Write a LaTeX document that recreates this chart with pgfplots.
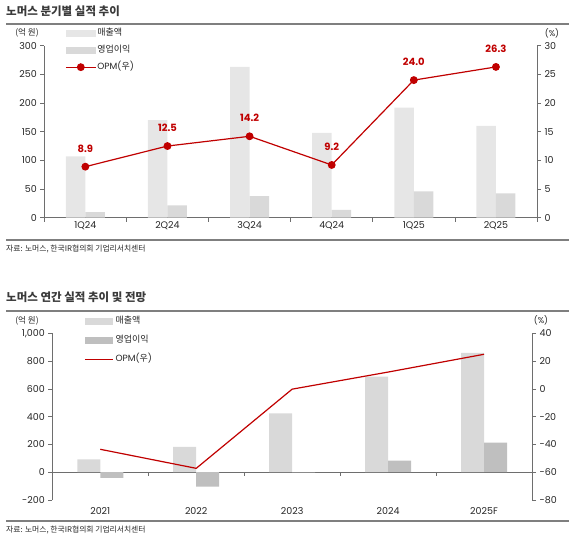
\documentclass[border=0pt]{standalone}
\usepackage{fontspec}
\setmainfont{Poppins}
\newfontfamily\kr{Noto Sans CJK KR}
\usepackage{pgfplots}
\pgfplotsset{compat=1.18}
\definecolor{salesA}{HTML}{E6E6E6}
\definecolor{opA}{HTML}{D9D9D9}
\definecolor{salesB}{HTML}{D9D9D9}
\definecolor{opB}{HTML}{BFBFBF}
\definecolor{opm}{HTML}{C00000}
\definecolor{rulec}{HTML}{7F7F7F}
\definecolor{axc}{HTML}{6E6E6E}
\definecolor{txt}{HTML}{262626}
\definecolor{ttl}{HTML}{3A3A3A}
\newcommand{\tickfont}{\fontsize{9.5bp}{11bp}\selectfont}
\newcommand{\legfont}{\fontsize{9bp}{11bp}\selectfont}
\pgfplotsset{
  common/.style={
    scale only axis, clip=false,
    /pgf/number format/assume math mode=true,
    tick label style={font=\tickfont, text=txt},
    tick align=outside, major tick length=4bp,
    axis line style={draw=axc, line width=0.6bp},
    every tick/.style={draw=axc, line width=0.6bp},
    scaled y ticks=false,
  },
  barlegA/.style={legend image code/.code={\fill[##1] (0bp,-3.4bp) rectangle (30bp,3.4bp);}},
  barlegB/.style={legend image code/.code={\fill[##1] (0bp,-3.4bp) rectangle (28.7bp,3.4bp);}},
  marklegA/.style={legend image code/.code={\draw[mark repeat=2,mark phase=2,##1] plot coordinates {(0bp,0bp) (15bp,0bp) (30bp,0bp)};}},
  linelegB/.style={legend image code/.code={\draw[##1] (0bp,0bp) -- (28.7bp,0bp);}},
}
\begin{document}
\begin{tikzpicture}
\useasboundingbox (0,0) rectangle (576bp,-543bp);
% ---------- chart 1 ----------
\node[anchor=west, text=ttl, inner sep=0] at (6bp,-11.5bp) {\kr\bfseries\fontsize{11.5bp}{13bp}\selectfont 노머스 분기별 실적 추이};
\draw[rulec, line width=2bp] (6bp,-24bp) -- (569bp,-24bp);
\draw[rulec, line width=2bp] (6bp,-240bp) -- (569bp,-240bp);
\node[anchor=west, text=txt, inner sep=0] at (6bp,-249bp) {\kr\fontsize{7.8bp}{9bp}\selectfont 자료: 노머스, 한국IR협의회 기업리서치센터};
\node[text=txt, inner sep=0] at (27bp,-33bp) {\kr\fontsize{8.5bp}{10bp}\selectfont (억 원)};
\node[text=txt, inner sep=0] at (552bp,-33bp) {\fontsize{8.5bp}{10bp}\selectfont (\%)};
\begin{axis}[common,
  at={(44.3bp,-217.7bp)}, anchor=south west,
  width=492.7bp, height=172bp,
  xmin=-0.5, xmax=5.5, ymin=0, ymax=300,
  axis x line*=bottom, axis y line*=left,
  xtick={-0.5,0.5,1.5,2.5,3.5,4.5,5.5},
  xticklabels={,,,,,,},
  extra x ticks={0,1,2,3,4,5},
  extra x tick labels={1Q24,2Q24,3Q24,4Q24,1Q25,2Q25},
  extra x tick style={major tick length=0pt},
  ytick={0,50,...,300},
  legend style={at={(0.042,1.106)}, anchor=north west, draw=none, fill=none,
    inner sep=0pt, row sep=6bp, font=\legfont,
    nodes={inner sep=1bp, text height=7bp, text depth=2bp, text=txt}},
  legend cell align=left,
]
\addplot[ybar, bar width=19.5bp, bar shift=-9.75bp, fill=salesA, draw=none, barlegA]
  coordinates {(0,107) (1,170) (2,263) (3,148) (4,192) (5,160)};
\addlegendentry{\kr 매출액}
\addplot[ybar, bar width=19.5bp, bar shift=9.75bp, fill=opA, draw=none, barlegA]
  coordinates {(0,9.8) (1,21.5) (2,37.5) (3,13.8) (4,46) (5,42.5)};
\addlegendentry{\kr 영업이익}
\addlegendimage{opm, line width=1.2bp, mark=*, mark size=3.3bp, marklegA}
\addlegendentry{OPM({\kr 우})}
\end{axis}
\begin{axis}[common,
  at={(44.3bp,-217.7bp)}, anchor=south west,
  width=492.7bp, height=172bp,
  xmin=-0.5, xmax=5.5, ymin=0, ymax=30,
  axis x line=none, axis y line*=right,
  ytick={0,5,...,30},
]
\addplot[opm, line width=1.2bp, mark=*, mark size=3.3bp,
  nodes near coords, point meta=explicit symbolic,
  every node near coord/.append style={font=\fontsize{10bp}{12bp}\selectfont\bfseries, text=opm, anchor=south, yshift=10.5bp}]
  coordinates {(0,8.9) [8.9] (1,12.5) [12.5] (2,14.2) [14.2] (3,9.2) [9.2] (4,24.0) [24.0] (5,26.3) [26.3]};
\end{axis}
% ---------- chart 2 ----------
\node[anchor=west, text=ttl, inner sep=0] at (6bp,-297.5bp) {\kr\bfseries\fontsize{11.5bp}{13bp}\selectfont 노머스 연간 실적 추이 및 전망};
\draw[rulec, line width=2bp] (6bp,-311bp) -- (569bp,-311bp);
\draw[rulec, line width=2bp] (6bp,-521bp) -- (569bp,-521bp);
\node[anchor=west, text=txt, inner sep=0] at (6bp,-530bp) {\kr\fontsize{7.8bp}{9bp}\selectfont 자료: 노머스, 한국IR협의회 기업리서치센터};
\node[text=txt, inner sep=0] at (27bp,-320.7bp) {\kr\fontsize{8.5bp}{10bp}\selectfont (억 원)};
\node[text=txt, inner sep=0] at (541bp,-320bp) {\fontsize{8.5bp}{10bp}\selectfont (\%)};
\begin{axis}[common,
  at={(52.3bp,-500bp)}, anchor=south west,
  width=479.7bp, height=166.7bp,
  xmin=-0.5, xmax=4.5, ymin=-200, ymax=1000,
  axis x line*=bottom, axis y line*=left,
  x axis line style={draw=none},
  xtick={0,1,2,3,4},
  xticklabels={2021,2022,2023,2024,2025F},
  xtick style={draw=none},
  ytick={-200,0,...,1000},
  extra y ticks={0},
  extra y tick labels={},
  extra y tick style={grid=major, major grid style={draw=axc, line width=0.6bp}},
  legend style={at={(0.066,1.109)}, anchor=north west, draw=none, fill=none,
    inner sep=0pt, row sep=7bp, font=\legfont,
    nodes={inner sep=1.5bp, text height=7bp, text depth=2bp, text=txt}},
  legend cell align=left,
]
\addplot[ybar, bar width=23bp, bar shift=-11.5bp, fill=salesB, draw=none, barlegB]
  coordinates {(0,93) (1,182) (2,424) (3,688) (4,860)};
\addlegendentry{\kr 매출액}
\addplot[ybar, bar width=23bp, bar shift=11.5bp, fill=opB, draw=none, barlegB]
  coordinates {(0,-40) (1,-103) (2,-1) (3,83.5) (4,213)};
\addlegendentry{\kr 영업이익}
\addlegendimage{opm, line width=1.2bp, linelegB}
\addlegendentry{OPM({\kr 우})}
\pgfplotsinvokeforeach{0.5,1.5,2.5,3.5}{\draw[axc, line width=0.6bp] (axis cs:#1,0) -- ([yshift=-3.5bp]axis cs:#1,0);}
\end{axis}
\begin{axis}[common,
  at={(52.3bp,-500bp)}, anchor=south west,
  width=479.7bp, height=166.7bp,
  xmin=-0.5, xmax=4.5, ymin=-80, ymax=40,
  axis x line=none, axis y line*=right,
  ytick={-80,-60,...,40},
]
\addplot[opm, line width=1.2bp]
  coordinates {(0,-43.5) (1,-57.2) (2,-0.2) (3,12.1) (4,24.9)};
\end{axis}
\end{tikzpicture}
\end{document}
